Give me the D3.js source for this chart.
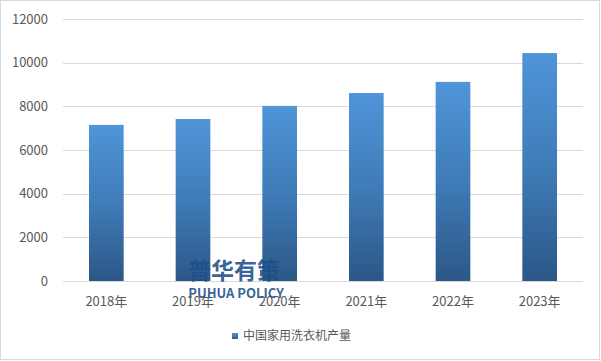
<!DOCTYPE html>
<html lang="zh">
<head>
  <meta charset="utf-8">
  <title>中国家用洗衣机产量</title>
  <script src="https://d3js.org/d3.v7.min.js"></script>
  <style>
    body { margin: 0; background: #fff; }
    text { font-family: "Noto Sans CJK SC", "Noto Sans", sans-serif; }
  </style>
</head>
<body>
  <div id="container"></div>
  <script>
    var years = ["2018年", "2019年", "2020年", "2021年", "2022年", "2023年"];
    var output = [7150, 7420, 8020, 8610, 9120, 10440];
    var yTicks = [0, 2000, 4000, 6000, 8000, 10000, 12000];
    var seriesName = "中国家用洗衣机产量";

    var w = 601, h = 361;
    var margin = { top: 19, right: 18, bottom: 80, left: 63 };

    var svg = d3.select("#container").append("svg")
      .attr("width", w).attr("height", h);

    // outer frame
    svg.append("rect")
      .attr("x", 0.5).attr("y", 0.5)
      .attr("width", w - 2).attr("height", h - 2)
      .attr("fill", "#fff").attr("stroke", "#d9d9d9");

    var defs = svg.append("defs");
    var grad = defs.append("linearGradient")
      .attr("id", "barGrad").attr("x1", 0).attr("y1", 0).attr("x2", 0).attr("y2", 1);
    grad.append("stop").attr("offset", "0%").attr("stop-color", "#4f95d8");
    grad.append("stop").attr("offset", "50%").attr("stop-color", "#3f7cb8");
    grad.append("stop").attr("offset", "100%").attr("stop-color", "#2c5787");

    var x = d3.scaleBand()
      .domain(years)
      .range([margin.left, w - margin.right])
      .paddingInner(0.6).paddingOuter(0.3);

    var y = d3.scaleLinear()
      .domain([0, 12000])
      .range([h - margin.bottom, margin.top]);

    // gridlines
    svg.append("g")
      .selectAll("line")
      .data(yTicks)
      .enter().append("line")
      .attr("x1", margin.left).attr("x2", w - margin.right)
      .attr("y1", function(d) { return Math.round(y(d)) + 0.5; })
      .attr("y2", function(d) { return Math.round(y(d)) + 0.5; })
      .attr("stroke", "#d9d9d9");

    // y labels
    svg.append("g")
      .selectAll("text")
      .data(yTicks)
      .enter().append("text")
      .attr("x", 48)
      .attr("y", function(d) { return y(d); })
      .attr("dy", "0.35em")
      .attr("text-anchor", "end")
      .attr("font-size", 13)
      .attr("fill", "#595959")
      .text(function(d) { return d; });

    // bars
    svg.append("g")
      .selectAll("rect")
      .data(output)
      .enter().append("rect")
      .attr("x", function(d, i) { return x(years[i]); })
      .attr("y", function(d) { return y(d); })
      .attr("width", x.bandwidth())
      .attr("height", function(d) { return y(0) - y(d); })
      .attr("fill", "url(#barGrad)");

    // x labels
    svg.append("g")
      .selectAll("text")
      .data(years)
      .enter().append("text")
      .attr("x", function(d) { return x(d) + x.bandwidth() / 2; })
      .attr("y", 306)
      .attr("text-anchor", "middle")
      .attr("font-size", 13)
      .attr("fill", "#595959")
      .text(function(d) { return d; });

    // watermark
    svg.append("text")
      .attr("x", 234).attr("y", 279)
      .attr("text-anchor", "middle")
      .attr("font-size", 23).attr("font-weight", "bold")
      .attr("fill", "#1d4f8a").attr("fill-opacity", 0.9)
      .text("普华有策");
    svg.append("text")
      .attr("x", 236).attr("y", 298)
      .attr("text-anchor", "middle")
      .attr("font-size", 13).attr("font-weight", "bold")
      .attr("fill", "#1d4f8a").attr("fill-opacity", 0.9)
      .text("PUHUA POLICY");

    // legend
    var legend = svg.append("g").attr("transform", "translate(232,333)");
    legend.append("rect")
      .attr("width", 6).attr("height", 6)
      .attr("fill", "url(#barGrad)");
    legend.append("text")
      .attr("x", 11).attr("y", 3)
      .attr("dy", "0.35em")
      .attr("font-size", 12)
      .attr("fill", "#595959")
      .text(seriesName);
  </script>
</body>
</html>
